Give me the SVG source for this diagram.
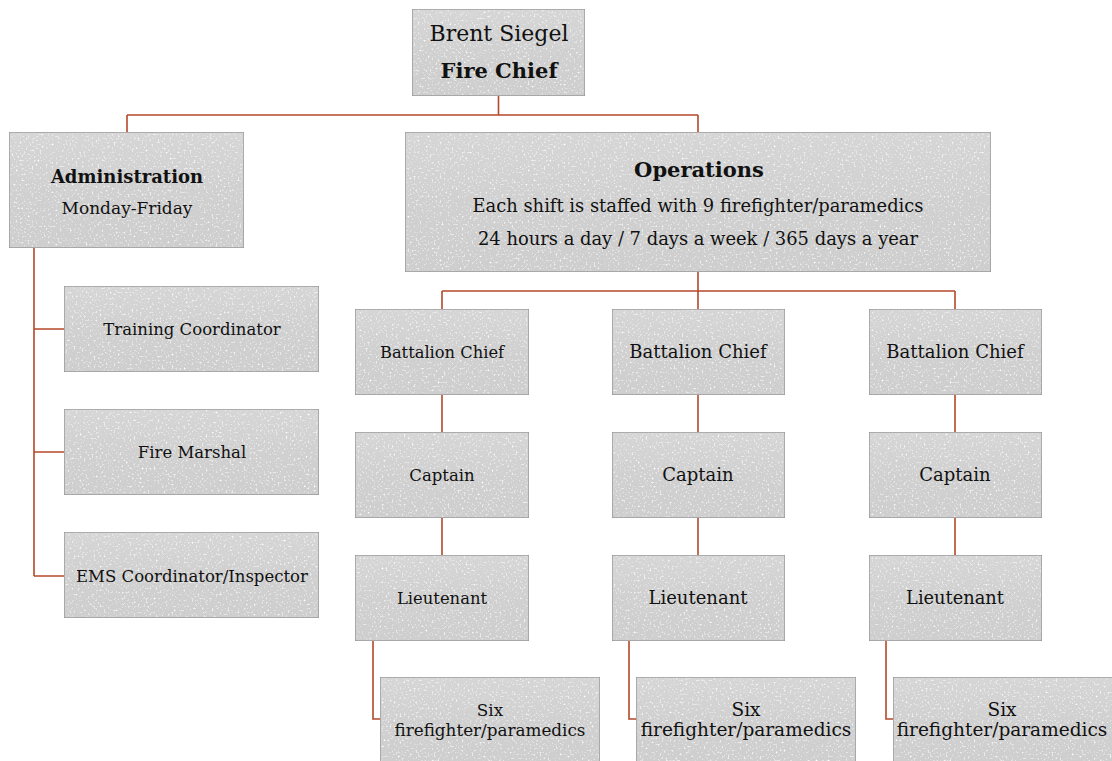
<svg xmlns="http://www.w3.org/2000/svg" width="1112" height="761" viewBox="0 0 1112 761">
<defs>
<linearGradient id="g" x1="0" y1="0" x2="0" y2="1">
<stop offset="0" stop-color="#d6d6d6"/>
<stop offset="0.5" stop-color="#d0d0d0"/>
<stop offset="1" stop-color="#cecece"/>
</linearGradient>
<filter id="sp" x="0" y="0" width="1" height="1">
<feTurbulence type="fractalNoise" baseFrequency="0.5" numOctaves="2" seed="7" result="n"/>
<feColorMatrix in="n" type="matrix" values="0 0 0 0 1  0 0 0 0 1  0 0 0 0 1  3.5 0 0 0 -2.0" result="w"/>
<feMorphology in="SourceAlpha" operator="erode" radius="2" result="m"/>
<feComposite in="w" in2="m" operator="in" result="ws"/>
<feMerge><feMergeNode in="SourceGraphic"/><feMergeNode in="ws"/></feMerge>
</filter>
</defs>
<style>
.box{fill:url(#g);stroke:#8f8f8f;stroke-width:1.2;filter:url(#sp)}
.t{font-family:"DejaVu Serif","Liberation Serif",serif;fill:#111;text-anchor:middle}
.b{font-weight:bold}
.c{fill:none;stroke:#b5482a;stroke-width:1.6}
</style>
<rect width="1112" height="761" fill="#fff"/>
<g id="connectors">
<path class="c" d="M498.5 96V115M127 115H698M127 115V132M698 115V132"/>
<path class="c" d="M34 248V576M34 329H64M34 452H64M34 576H64"/>
<path class="c" d="M698 272V291M442 291H955M442 291V309M698 291V309M955 291V309"/>
<path class="c" d="M442 395V432M442 518V555M698 395V432M698 518V555M955 395V432M955 518V555"/>
<path class="c" d="M373 641V719H380M629 641V719H636M886 641V719H893"/>
</g>
<g id="chief"><rect class="box" x="412" y="9" width="173" height="87"/>
<text class="t" x="499" y="41" font-size="22">Brent Siegel</text>
<text class="t b" x="499" y="78" font-size="21">Fire Chief</text></g>
<g id="admin"><rect class="box" x="9" y="132" width="235" height="116"/>
<text class="t b" x="127" y="183" font-size="18">Administration</text>
<text class="t" x="127" y="214" font-size="17">Monday-Friday</text></g>
<g id="ops"><rect class="box" x="405" y="132" width="586" height="140"/>
<text class="t b" x="699" y="177" font-size="21">Operations</text>
<text class="t" x="698" y="212" font-size="17.9">Each shift is staffed with 9 firefighter/paramedics</text>
<text class="t" x="698" y="245" font-size="17.9">24 hours a day / 7 days a week / 365 days a year</text></g>
<g id="training"><rect class="box" x="64" y="286" width="255" height="86"/>
<text class="t" x="192" y="335" font-size="16.5">Training Coordinator</text></g>
<g id="marshal"><rect class="box" x="64" y="409" width="255" height="86"/>
<text class="t" x="192" y="458" font-size="16.5">Fire Marshal</text></g>
<g id="ems"><rect class="box" x="64" y="532" width="255" height="86"/>
<text class="t" x="192" y="582" font-size="16.5">EMS Coordinator/Inspector</text></g>
<g id="bc1"><rect class="box" x="355" y="309" width="174" height="86"/>
<text class="t" x="442" y="358" font-size="16.3">Battalion Chief</text></g>
<g id="cap1"><rect class="box" x="355" y="432" width="174" height="86"/>
<text class="t" x="442" y="481" font-size="16.5">Captain</text></g>
<g id="lt1"><rect class="box" x="355" y="555" width="174" height="86"/>
<text class="t" x="442" y="604" font-size="16.4">Lieutenant</text></g>
<g id="six1"><rect class="box" x="380" y="677" width="220" height="90"/>
<text class="t" x="490" y="716" font-size="16.8">Six</text>
<text class="t" x="490" y="736" font-size="16.8">firefighter/paramedics</text></g>
<g id="bc2"><rect class="box" x="612" y="309" width="173" height="86"/>
<text class="t" x="698" y="358" font-size="18">Battalion Chief</text></g>
<g id="cap2"><rect class="box" x="612" y="432" width="173" height="86"/>
<text class="t" x="698" y="481" font-size="18">Captain</text></g>
<g id="lt2"><rect class="box" x="612" y="555" width="173" height="86"/>
<text class="t" x="698" y="604" font-size="18">Lieutenant</text></g>
<g id="six2"><rect class="box" x="636" y="677" width="220" height="90"/>
<text class="t" x="746" y="716" font-size="18.5">Six</text>
<text class="t" x="746" y="736" font-size="18.5">firefighter/paramedics</text></g>
<g id="bc3"><rect class="box" x="869" y="309" width="173" height="86"/>
<text class="t" x="955" y="358" font-size="18">Battalion Chief</text></g>
<g id="cap3"><rect class="box" x="869" y="432" width="173" height="86"/>
<text class="t" x="955" y="481" font-size="18">Captain</text></g>
<g id="lt3"><rect class="box" x="869" y="555" width="173" height="86"/>
<text class="t" x="955" y="604" font-size="17.8">Lieutenant</text></g>
<g id="six3"><rect class="box" x="893" y="677" width="220" height="90"/>
<text class="t" x="1002" y="716" font-size="18.5">Six</text>
<text class="t" x="1002" y="736" font-size="18.5">firefighter/paramedics</text></g>
</svg>
